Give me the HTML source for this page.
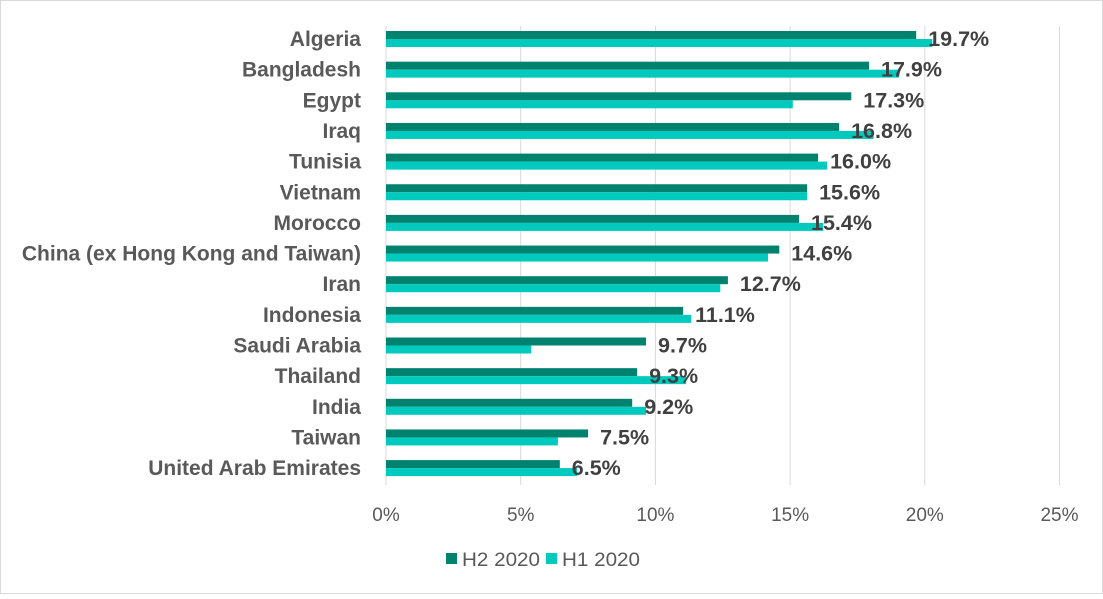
<!DOCTYPE html>
<html><head><meta charset="utf-8"><style>
body{margin:0;background:#fff}
svg text{font-family:"Liberation Sans",Arial,sans-serif}
.c{font-size:21px;font-weight:bold;fill:#595959;text-anchor:end}
.v{font-size:21.5px;font-weight:bold;fill:#404040}
</style></head><body>
<svg width="1103" height="594" viewBox="0 0 1103 594" xmlns="http://www.w3.org/2000/svg">
<rect x="0.5" y="0.5" width="1102" height="593" fill="#fff" stroke="#d9d9d9"/>
<g stroke="#d9d9d9" stroke-width="1">
<line x1="386" y1="26" x2="386" y2="485"/>
<line x1="520.7" y1="26" x2="520.7" y2="485"/>
<line x1="655.4" y1="26" x2="655.4" y2="485"/>
<line x1="790.1" y1="26" x2="790.1" y2="485"/>
<line x1="924.8" y1="26" x2="924.8" y2="485"/>
<line x1="1059.5" y1="26" x2="1059.5" y2="485"/>
</g>
<g fill="#00826e">
<rect x="386" y="31" width="530.2" height="8"/>
<rect x="386" y="61.65" width="483" height="8"/>
<rect x="386" y="92.3" width="465.3" height="8"/>
<rect x="386" y="122.95" width="453.1" height="8"/>
<rect x="386" y="153.6" width="432.1" height="8"/>
<rect x="386" y="184.25" width="421.1" height="8"/>
<rect x="386" y="214.9" width="413" height="8"/>
<rect x="386" y="245.55" width="393.3" height="8"/>
<rect x="386" y="276.2" width="341.9" height="8"/>
<rect x="386" y="306.85" width="297.1" height="8"/>
<rect x="386" y="337.5" width="260" height="8"/>
<rect x="386" y="368.15" width="251.1" height="8"/>
<rect x="386" y="398.8" width="246.2" height="8"/>
<rect x="386" y="429.45" width="202.1" height="8"/>
<rect x="386" y="460.1" width="173.8" height="8"/>
</g>
<g fill="#00c9bd">
<rect x="386" y="39" width="546.3" height="8"/>
<rect x="386" y="69.65" width="512.9" height="8"/>
<rect x="386" y="100.3" width="406.8" height="8"/>
<rect x="386" y="130.95" width="487.6" height="8"/>
<rect x="386" y="161.6" width="441" height="8"/>
<rect x="386" y="192.25" width="421.1" height="8"/>
<rect x="386" y="222.9" width="437.2" height="8"/>
<rect x="386" y="253.55" width="382" height="8"/>
<rect x="386" y="284.2" width="334.3" height="8"/>
<rect x="386" y="314.85" width="305.2" height="8"/>
<rect x="386" y="345.5" width="145.2" height="8"/>
<rect x="386" y="376.15" width="300.1" height="8"/>
<rect x="386" y="406.8" width="260" height="8"/>
<rect x="386" y="437.45" width="171.9" height="8"/>
<rect x="386" y="468.1" width="191" height="8"/>
</g>
<text class="c" x="361" y="46">Algeria</text>
<text class="c" x="361" y="76.65">Bangladesh</text>
<text class="c" x="361" y="107.3">Egypt</text>
<text class="c" x="361" y="137.95">Iraq</text>
<text class="c" x="361" y="168.6">Tunisia</text>
<text class="c" x="361" y="199.25">Vietnam</text>
<text class="c" x="361" y="229.9">Morocco</text>
<text class="c" x="361" y="260.55">China (ex Hong Kong and Taiwan)</text>
<text class="c" x="361" y="291.2">Iran</text>
<text class="c" x="361" y="321.85">Indonesia</text>
<text class="c" x="361" y="352.5">Saudi Arabia</text>
<text class="c" x="361" y="383.15">Thailand</text>
<text class="c" x="361" y="413.8">India</text>
<text class="c" x="361" y="444.45">Taiwan</text>
<text class="c" x="361" y="475.1">United Arab Emirates</text>
<text class="v" x="928.2" y="46">19.7%</text>
<text class="v" x="881" y="76.65">17.9%</text>
<text class="v" x="863.3" y="107.3">17.3%</text>
<text class="v" x="851.1" y="137.95">16.8%</text>
<text class="v" x="830.1" y="168.6">16.0%</text>
<text class="v" x="819.1" y="199.25">15.6%</text>
<text class="v" x="811" y="229.9">15.4%</text>
<text class="v" x="791.3" y="260.55">14.6%</text>
<text class="v" x="739.9" y="291.2">12.7%</text>
<text class="v" x="695.1" y="321.85">11.1%</text>
<text class="v" x="658" y="352.5">9.7%</text>
<text class="v" x="649.1" y="383.15">9.3%</text>
<text class="v" x="644.2" y="413.8">9.2%</text>
<text class="v" x="600.1" y="444.45">7.5%</text>
<text class="v" x="571.8" y="475.1">6.5%</text>
<g font-size="19" fill="#595959" text-anchor="middle">
<text x="386" y="521">0%</text><text x="520.7" y="521">5%</text><text x="655.4" y="521">10%</text>
<text x="790.1" y="521">15%</text><text x="924.8" y="521">20%</text><text x="1059.5" y="521">25%</text>
</g>
<rect x="446" y="553" width="11" height="11" fill="#00826e"/>
<text x="462" y="566" font-size="19" fill="#595959" textLength="78" lengthAdjust="spacingAndGlyphs">H2 2020</text>
<rect x="546" y="553" width="11" height="11" fill="#00c9bd"/>
<text x="562" y="566" font-size="19" fill="#595959" textLength="78" lengthAdjust="spacingAndGlyphs">H1 2020</text>
</svg>
</body></html>
